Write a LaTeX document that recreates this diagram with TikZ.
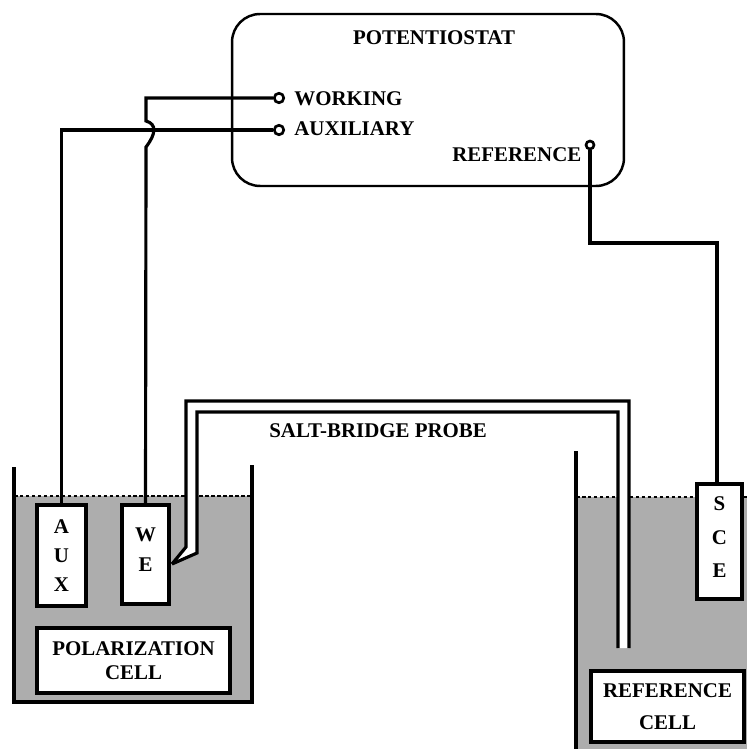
\documentclass[tikz,border=0pt]{standalone}
\usepackage{fontspec}
\setmainfont{Liberation Serif}
\usepackage{tikz}
\usetikzlibrary{calc}

\begin{document}
\begin{tikzpicture}[
  x=0.02cm, y=-0.02cm,
  font=\fontsize{11.9}{11.9}\selectfont\bfseries,
  wire/.style={line width=1.8pt},
  wall/.style={line width=1.8pt},
  level/.style={line width=0.6pt, dash pattern=on 2pt off 1.4pt},
  liquid/.style={fill=black!32},
  cellbox/.style={draw, line width=1.9pt, fill=white, align=center, outer sep=0pt, inner sep=0pt},
  terminal/.style={draw, circle, line width=1.5pt, fill=white, inner sep=0pt, minimum size=0.19cm},
  tag/.style={anchor=west, inner sep=0pt}
]
\useasboundingbox (0,0) rectangle (747,749);

%% Liquid in both cells
\fill[liquid] (14,496) rectangle (252,702);
\fill[liquid] (576,497) rectangle (747,749);
\draw[level] (14,496) -- (252,496);
\draw[level] (576,497) -- (747,497);

%% Cell walls
\draw[wall] (14,467) -- (14,702) -- (252,702) -- (252,465);
\draw[wall] (576,451) -- (576,749);

%% Potentiostat
\node[draw, line width=1.4pt, rounded corners=0.56cm, minimum width=7.84cm, minimum height=3.44cm,
      outer sep=0pt] (pot) at (428,100) {};
\node[inner sep=0pt] (potname) at (434,38) {POTENTIOSTAT};
\node[terminal] (working) at (279,98) {};
\node[terminal] (auxiliary) at (279,130) {};
\node[terminal, minimum size=0.16cm] (reference) at (590,145) {};
\node[tag] (worktag) at (294,99) {WORKING};
\node[tag] (auxtag) at (294,129) {AUXILIARY};
\node[tag] (reftag) at (452,155) {REFERENCE};

%% Electrodes and cell labels
\node[cellbox, minimum width=0.98cm, minimum height=2.02cm] (aux) at (61.5,555.5)
  {A\\[4.6pt]U\\[4.6pt]X};
\node[cellbox, minimum width=0.94cm, minimum height=1.98cm, text depth=5.6pt] (we) at (145.5,554.5)
  {W\\[5.6pt]E};
\node[cellbox, minimum width=0.90cm, minimum height=2.30cm, text depth=5pt] (sce) at (719.5,541.5)
  {S\\[7pt]C\\[7pt]E};
\node[cellbox, minimum width=3.86cm, minimum height=1.30cm] (polcell) at (133.5,660.5)
  {POLARIZATION\\[1.4pt]CELL};
\node[cellbox, minimum width=3.06cm, minimum height=1.42cm] (refcell) at (667.5,706.5)
  {REFERENCE\\[6pt]CELL};

%% Wires
\coordinate (jumpa) at (146,121);
\coordinate (jumpb) at (146,147);
\coordinate (scetop) at (717,484);
\coordinate (refbend) at (590,243);
\draw[wire] (auxiliary.west) -| (aux.north);
\draw[wire] (working.west) -| (jumpa)
  .. controls (157,124) and (156,134) .. (jumpb) -- (we.north);
\draw[wire] (reference.south) -- (refbend) -| (scetop);

%% Salt-bridge probe
\fill[white] (172,564) -- (186,547) -- (186,401) -- (629,401) -- (629,648)
  -- (618,648) -- (618,412) -- (197,412) -- (197,553) -- cycle;
\draw[wire] (172,564) -- (186,547) -- (186,401) -- (629,401) -- (629,648);
\draw[wire] (172,564) -- (197,553) -- (197,412) -- (618,412) -- (618,648);
\node[tag] (probetag) at (269,431) {SALT-BRIDGE PROBE};
\end{tikzpicture}
\end{document}
